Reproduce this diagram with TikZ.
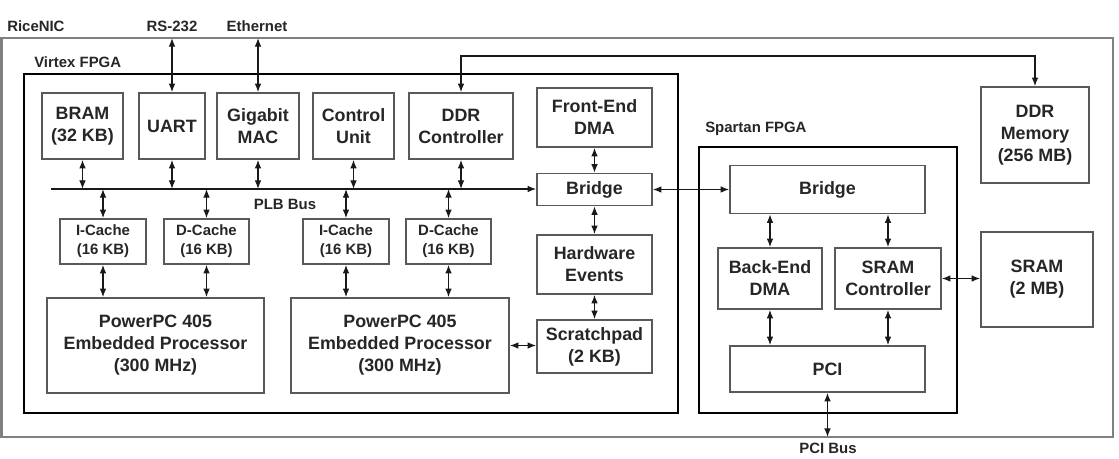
\documentclass[tikz,border=0pt]{standalone}
\usepackage{fontspec}
\setmainfont{Liberation Sans}
\usetikzlibrary{arrows.meta}
\begin{document}
\begin{tikzpicture}[x=0.75pt,y=-0.75pt]
\tikzset{
 box/.style={draw=black!65, line width=1.2pt, fill=white, align=center, inner sep=0pt,
   text=black!85, font=\bfseries\fontsize{13.4}{16.5}\selectfont},
 wh/.style 2 args={minimum width=#1*0.75pt, minimum height=#2*0.75pt},
 smalltext/.style={font=\bfseries\fontsize{11.2}{14.3}\selectfont},
 lab/.style={text=black!85, font=\bfseries\fontsize{11.2}{13}\selectfont, inner sep=0pt},
 tip/.tip={Latex[length=6.5pt,width=5pt]},
 link/.style={draw=black!90, line width=0.9pt, tip-tip},
 busline/.style={draw=black!90, line width=0.9pt, -tip},
 chipframe/.style={draw=black, line width=2.2pt},
 boardframe/.style={draw=black!50, line width=1.5pt},
}
\useasboundingbox (0,0) rectangle (1119,459);
% frames
\draw[boardframe] (1.5,38) rectangle (1113,437);
\draw[chipframe] (24,74) rectangle (678,413);
\draw[chipframe] (699,147) rectangle (957,413);
% labels
\node[lab, anchor=west] (lbRice) at (7,26) {RiceNIC};
\node[lab] (lbRS) at (172,26) {RS-232};
\node[lab] (lbEth) at (257,26) {Ethernet};
\node[lab, anchor=west] (lbVirtex) at (34,62) {Virtex FPGA};
\node[lab, anchor=west] (lbSpartan) at (705,129) {Spartan FPGA};
\node[lab] (lbPLB) at (285,204) {PLB Bus};
\node[lab] (lbPCI) at (828,448) {PCI Bus};
% Virtex boxes
\node[box, wh={81}{66}] (BRAM) at (82.5,126) {BRAM\\(32 KB)};
\node[box, wh={66}{66}] (UART) at (172,126) {UART};
\node[box, wh={82}{66}] (GMAC) at (258,126) {Gigabit\\MAC};
\node[box, wh={81}{66}] (CTRL) at (353.5,126) {Control\\Unit};
\node[box, wh={104}{66}] (DDRC) at (461,126) {DDR\\Controller};
\node[box, wh={115}{59}] (FEDMA) at (594.5,117.5) {Front-End\\DMA};
\node[box, wh={115}{32}] (VBR) at (594.5,189.5) {Bridge};
\node[box, wh={115}{59}] (HWE) at (594.5,264.5) {Hardware\\Events};
\node[box, wh={115}{53}] (SCR) at (594.5,346.5) {Scratchpad\\(2 KB)};
\node[box, smalltext, wh={86}{45}] (IC1) at (103,241.5) {I-Cache\\(16 KB)};
\node[box, smalltext, wh={85}{45}] (DC1) at (206.5,241.5) {D-Cache\\(16 KB)};
\node[box, smalltext, wh={86}{45}] (IC2) at (346,241.5) {I-Cache\\(16 KB)};
\node[box, smalltext, wh={85}{45}] (DC2) at (448.5,241.5) {D-Cache\\(16 KB)};
\node[box, wh={217}{95}] (PPC1) at (155.5,345.5) {PowerPC 405\\Embedded Processor\\(300 MHz)};
\node[box, wh={218}{95}] (PPC2) at (400,345.5) {PowerPC 405\\Embedded Processor\\(300 MHz)};
% Spartan boxes
\node[box, wh={195}{48}] (SBR) at (827.5,189.5) {Bridge};
\node[box, wh={104}{61}] (BEDMA) at (770,278.5) {Back-End\\DMA};
\node[box, wh={106}{61}] (SRAMC) at (888,278.5) {SRAM\\Controller};
\node[box, wh={195}{46}] (PCI) at (827.5,369) {PCI};
% external
\node[box, wh={112}{95}] (SRAM) at (1037,279.5) {SRAM\\(2 MB)};
\node[box, wh={108}{96}] (DDRM) at (1035,135) {DDR\\Memory\\(256 MB)};
% coordinates
\coordinate (busL) at (51,189);
\coordinate (topedge) at (0,38);
\coordinate (botedge) at (0,437);
\coordinate (ddrrun) at (0,56);
% bus
\draw[busline] (busL) -- (busL -| VBR.west);
% top connectors
\draw[link] (UART.north |- topedge) -- (UART.north);
\draw[link] (GMAC.north |- topedge) -- (GMAC.north);
\draw[link] (DDRC.north) -- (DDRC.north |- ddrrun) -- (DDRM.north |- ddrrun) -- (DDRM.north);
% devices to bus
\foreach \n in {BRAM,UART,GMAC,CTRL,DDRC}{
  \draw[link] (\n.south) -- (\n.south |- busL);
}
\foreach \n in {IC1,DC1,IC2,DC2}{
  \draw[link] (\n.north |- busL) -- (\n.north);
}
\draw[link] (IC1.south) -- (IC1.south |- PPC1.north);
\draw[link] (DC1.south) -- (DC1.south |- PPC1.north);
\draw[link] (IC2.south) -- (IC2.south |- PPC2.north);
\draw[link] (DC2.south) -- (DC2.south |- PPC2.north);
% right column of Virtex
\draw[link] (FEDMA.south) -- (VBR.north);
\draw[link] (VBR.south) -- (HWE.north);
\draw[link] (HWE.south) -- (SCR.north);
\draw[link] (PPC2.east) -- (PPC2.east -| SCR.west);
% bridges
\draw[link] (VBR.east) -- (VBR.east -| SBR.west);
% Spartan
\draw[link] (SBR.south -| BEDMA.north) -- (BEDMA.north);
\draw[link] (SBR.south -| SRAMC.north) -- (SRAMC.north);
\draw[link] (BEDMA.south) -- (BEDMA.south |- PCI.north);
\draw[link] (SRAMC.south) -- (SRAMC.south |- PCI.north);
\draw[link] (SRAMC.east) -- (SRAMC.east -| SRAM.west);
\draw[link] (PCI.south) -- (PCI.south |- botedge);
\end{tikzpicture}
\end{document}
